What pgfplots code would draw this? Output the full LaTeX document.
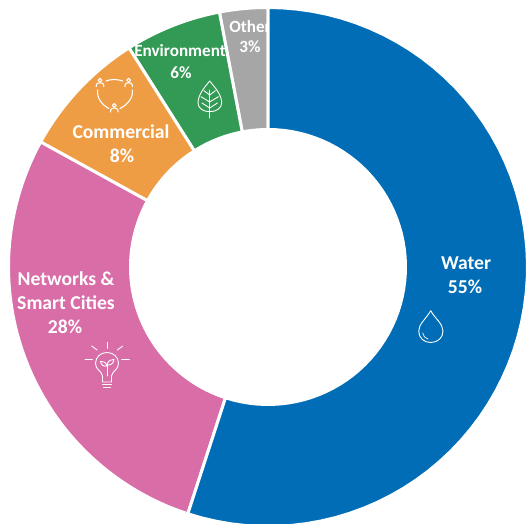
\documentclass[border=0pt]{standalone}
\usepackage{pgfplots}
\pgfplotsset{compat=1.18}
\usepgfplotslibrary{polar}
\usepackage{fontspec}
\setmainfont{Carlito}

\definecolor{waterblue}{HTML}{006DB6}
\definecolor{netpink}{HTML}{D86DA8}
\definecolor{commorange}{HTML}{EE9D45}
\definecolor{envgreen}{HTML}{339A55}
\definecolor{othergrey}{HTML}{A6A6A6}

\newcommand\Router{259.5}
\newcommand\Rinner{137.5}

% Outline of a ring slice between two cumulative shares (percent, clockwise from the top)
\newcommand\buildslice[2]{%
  \gdef\slicepts{}%
  \foreach \i in {0,...,60}{%
    \pgfmathsetmacro\t{90-3.6*(#1+(#2-#1)*\i/60)}%
    \xdef\slicepts{\slicepts (\t,\Router)}%
  }%
  \foreach \i in {60,...,0}{%
    \pgfmathsetmacro\t{90-3.6*(#1+(#2-#1)*\i/60)}%
    \xdef\slicepts{\slicepts (\t,\Rinner)}%
  }%
}
% Slices are laid down from the end of the circle backwards, so Water comes last
\newcommand\slice[2]{%
  \pgfmathsetmacro\lowshare{\runningtotal-#1}%
  \buildslice{\lowshare}{\runningtotal}%
  \edef\drawslice{\noexpand\addplot[fill=#2,draw=white,line width=3bp,line join=miter,data cs=polar]
    coordinates {\slicepts} -- cycle;}%
  \drawslice
  \xdef\runningtotal{\lowshare}%
}

\begin{document}
\begin{tikzpicture}[x=1bp,y=1bp]
\useasboundingbox (0,0) rectangle (526,524);
\begin{axis}[
  at={(0,0)},anchor=south west,
  scale only axis,width=526bp,height=524bp,
  xmin=-268,xmax=258,ymin=-257,ymax=267,
  hide axis,
]
\gdef\runningtotal{100}
\slice{3}{othergrey}
\slice{6}{envgreen}
\slice{8}{commorange}
\slice{28}{netpink}
\slice{55}{waterblue}
\end{axis}

% Labels and icons, positioned from the top-left corner of the picture
\begin{scope}[shift={(0,524)},y=-1bp,x=1bp,
  lab/.style={text=white,font=\bfseries\fontsize{19.7}{22}\selectfont,inner sep=0pt,anchor=center},
  small/.style={text=white,font=\bfseries\fontsize{17.2}{20}\selectfont,inner sep=0pt,anchor=center},
  icon/.style={draw=white,line width=0.9bp,line cap=round,line join=round}]
  \node[lab] at (466,263) {Water};
  \node[lab] at (465,287) {55\%};
  \node[lab] at (66,279) {Networks \&};
  \node[lab] at (66,303) {Smart Cities};
  \node[lab] at (65,327) {28\%};
  \node[lab] at (121,132) {Commercial};
  \node[lab] at (122,156) {8\%};
  \node[small] at (180,51) {Environment};
  \node[small] at (181,73) {6\%};
  \begin{scope}
    \clip (200,0) rectangle (267.5,60);
    \node[small] at (250,27) {Other};
  \end{scope}
  \node[small] at (250,47) {3\%};

  % water drop
  \draw[icon] (430.7,310.7) .. controls (426,319) and (418.7,324) .. (418.7,331)
     .. controls (418.7,338) and (424,342.5) .. (430.7,342.5)
     .. controls (437.5,342.5) and (443,338) .. (443,331)
     .. controls (443,324) and (435.5,319) .. (430.7,310.7);
  \draw[icon,line width=0.7bp] (422.7,333) .. controls (423.2,336) and (425,338.5) .. (428,339);

  % leaf
  \draw[icon] (209.7,81) .. controls (204,88) and (198,95) .. (198,103)
     .. controls (198,108) and (203,111.7) .. (209.7,111.7)
     .. controls (216.4,111.7) and (221.7,108) .. (221.7,103)
     .. controls (221.7,95) and (215.4,88) .. (209.7,81);
  \draw[icon] (209.7,90) -- (209.7,118);
  \draw[icon] (204,90.7) -- (209.7,95) -- (215.4,90.7);
  \draw[icon] (201,96.7) -- (209.7,102) -- (218.4,96.7);
  \draw[icon] (202,103) -- (209.7,108) -- (217.4,103);

  % people in a circle
  \foreach \px/\py in {100/82.7,128.7/82.7,114.3/108}{
    \draw[icon,line width=1.1bp] (\px,\py-2.5) circle (1.9);
    \draw[icon,line width=1.1bp] (\px-3.8,\py+4) .. controls (\px-3.8,\py+0.5) and (\px-2,\py) .. (\px,\py)
       .. controls (\px+2,\py) and (\px+3.8,\py+0.5) .. (\px+3.8,\py+4);
  }
  \draw[icon,line width=1.1bp] (106,81) .. controls (111,79) and (117,79) .. (122.7,81);
  \draw[icon,line width=1.1bp] (97.7,90) .. controls (96.5,98) and (102,105) .. (109,108.5);
  \draw[icon,line width=1.1bp] (132.3,90) .. controls (133.5,98) and (127,105) .. (120,108.5);

  % light bulb with a sprout
  \draw[icon] (102.5,376) .. controls (102,371) and (95.5,370) .. (95.5,363.5)
     .. controls (95.5,357) and (100.5,352.5) .. (107,352.5)
     .. controls (113.5,352.5) and (118.5,357) .. (118.5,363.5)
     .. controls (118.5,370) and (112,371) .. (111.5,376) -- (111.5,382) -- (102.5,382) -- cycle;
  \draw[icon] (102.5,384.5) -- (111.5,384.5);
  \draw[icon] (103.5,387) -- (110.5,387);
  \draw[icon] (107,376) -- (107,363);
  \draw[icon] (107,366) .. controls (106,362) and (103,361) .. (100.5,361.5)
     .. controls (101,365) and (104,367) .. (107,366);
  \draw[icon] (107,365) .. controls (108,360.5) and (111,359) .. (114,359.5)
     .. controls (113.5,363.5) and (110.5,365.5) .. (107,365);
  \draw[icon] (107.3,342.3) -- (107.3,348.3);
  \draw[icon] (91.7,346) -- (97,350);
  \draw[icon] (122.7,346) -- (117.4,350);
  \draw[icon] (85,359.3) -- (92.5,359.3);
  \draw[icon] (121.7,359.3) -- (129.3,359.3);
\end{scope}
\end{tikzpicture}
\end{document}
